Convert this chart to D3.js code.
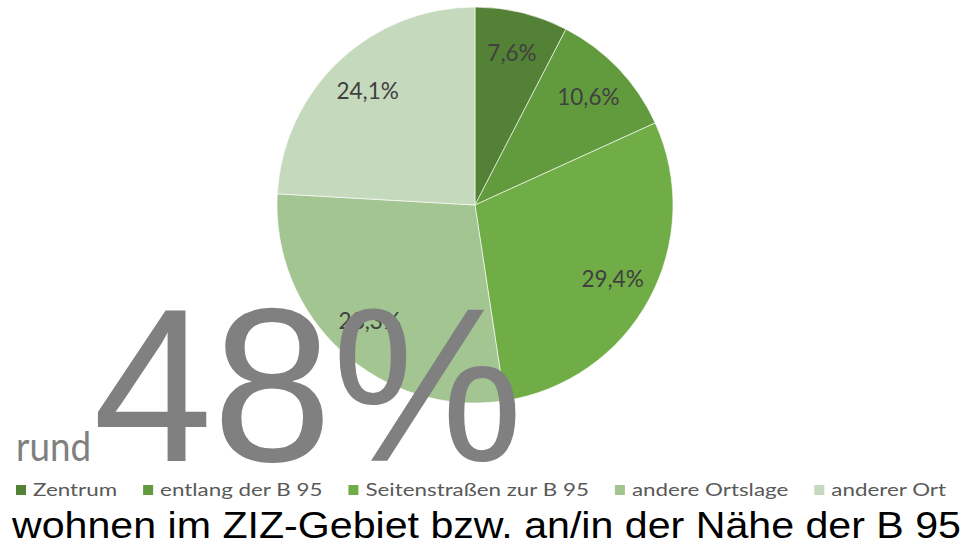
<!DOCTYPE html>
<html><head><meta charset="utf-8">
<script src="https://cdn.jsdelivr.net/npm/d3@7"></script>
<style>html,body{margin:0;padding:0;background:#fff;overflow:hidden}</style>
</head><body>
<svg id="chart" width="969" height="552"></svg>
<script>
const categories = ["Zentrum", "entlang der B 95", "Seitenstraßen zur B 95", "andere Ortslage", "anderer Ort"];
const values = [7.6, 10.6, 29.4, 28.3, 24.1];
const colors = ["#538135", "#629B3E", "#70AD47", "#A2C592", "#C5D9BC"];
const bigNumber = "48%";
const prefix = "rund";
const subtitle = "wohnen im ZIZ-Gebiet bzw. an/in der Nähe der B 95";

const svg = d3.select("#chart");
const cx = 475, cy = 205, R = 198;

const pie = d3.pie().sort(null).value(d => d)(values);
const arc = d3.arc().innerRadius(0).outerRadius(R);
const labelArc = d3.arc().innerRadius(R * 0.79).outerRadius(R * 0.79);
const color = d3.scaleOrdinal().domain(categories).range(colors);
const fmt = v => d3.format(".1f")(v).replace(".", ",") + "%";

const g = svg.append("g").attr("transform", `translate(${cx},${cy})`);
g.selectAll("path.slice").data(pie).join("path")
  .attr("class", "slice")
  .attr("d", arc)
  .attr("fill", (d, i) => color(categories[i]))
  .attr("stroke", "#ffffff").attr("stroke-opacity", 0.6).attr("stroke-width", 1);

g.selectAll("text.lbl").data(pie).join("text")
  .attr("class", "lbl")
  .attr("transform", d => `translate(${labelArc.centroid(d)})`)
  .attr("text-anchor", "middle").attr("dy", "0.35em")
  .attr("font-family", "Lato, 'Open Sans', sans-serif")
  .attr("font-size", 22.5).attr("fill", "#404040")
  .text(d => fmt(d.data));

// Legend
const leg = svg.append("g").attr("transform", "translate(0,490)");
const items = leg.selectAll("g").data(categories).join("g");
items.append("rect").attr("width", 10).attr("height", 10).attr("y", -5)
  .attr("fill", d => color(d));
const texts = items.append("text").attr("x", 17).attr("dy", "0.36em")
  .attr("font-family", "Lato, 'Open Sans', sans-serif")
  .attr("font-size", 18).attr("fill", "#595959").text(d => d);
const widths = [];
texts.each(function(){ widths.push(this.getComputedTextLength()); });
const legStart = 16, legEnd = 946, gap = 26, lead = 17;
const k = (legEnd - legStart - categories.length * lead - (categories.length - 1) * gap) / d3.sum(widths);
let xpos = legStart;
items.each(function(d, i){
  d3.select(this).attr("transform", `translate(${xpos},0)`);
  d3.select(this).select("text").attr("textLength", widths[i] * k).attr("lengthAdjust", "spacingAndGlyphs");
  xpos += lead + widths[i] * k + gap;
});

// Big number overlay
svg.append("text").attr("x", 16).attr("y", 461)
  .attr("font-family", "Lato, 'Open Sans', sans-serif").attr("font-size", 40)
  .attr("fill", "#808080").attr("textLength", 75).attr("lengthAdjust", "spacingAndGlyphs")
  .text(prefix);
svg.append("text").attr("x", 93).attr("y", 461)
  .attr("font-family", "'Liberation Sans', Arial, sans-serif").attr("font-size", 219)
  .attr("fill", "#808080").attr("textLength", 430).attr("lengthAdjust", "spacingAndGlyphs")
  .text(bigNumber);

// Subtitle
svg.append("text").attr("x", 12).attr("y", 538)
  .attr("font-family", "'Liberation Sans', Arial, sans-serif").attr("font-size", 37)
  .attr("fill", "#000000").attr("textLength", 949).attr("lengthAdjust", "spacingAndGlyphs")
  .text(subtitle);
</script>
</body></html>
